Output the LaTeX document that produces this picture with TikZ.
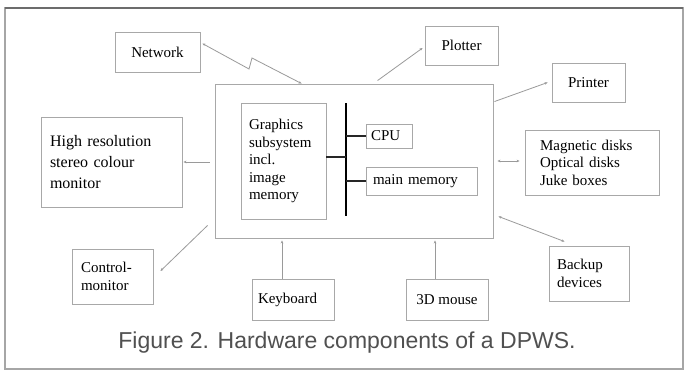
\documentclass[tikz,border=0pt]{standalone}
\usepackage{fontspec}
\setmainfont{Liberation Serif}
\newfontfamily\capfont{Liberation Sans}
\usetikzlibrary{calc,arrows.meta}
\definecolor{boxgray}{HTML}{A8A8A8}
\definecolor{linegray}{HTML}{9A9A9A}
\definecolor{capgray}{HTML}{505050}
\tikzset{
  box/.style={draw=boxgray, line width=0.9pt, inner ysep=0pt, text=black,
    font=\fontsize{15}{17.5}\selectfont},
  link/.style={draw=linegray, line width=0.8pt},
  tip/.style={-{Stealth[length=3pt,width=2.6pt]}},
  bitip/.style={{Stealth[length=3pt,width=2.6pt]}-{Stealth[length=3pt,width=2.6pt]}},
  bus/.style={draw=black, line width=2.2pt},
  stub/.style={draw=black!85, line width=1.1pt},
}
\begin{document}
\begin{tikzpicture}[x=1pt,y=-1pt]
\useasboundingbox (0,0) rectangle (685,372);
\fill[white] (0,0) rectangle (685,372);
% outer frame
\draw[draw=gray!70, line width=1.6pt] (5,8) rectangle (683,369);
\draw[draw=gray!85!black, line width=1.8pt] (5,8) -- (683,8);

% boxes
\node[box, align=center, minimum width=85, minimum height=40] (net) at (157.5,52) {Network};
\node[box, align=center, minimum width=73, minimum height=39] (plot) at (461.5,45.5) {Plotter};
\node[box, align=center, minimum width=73, minimum height=39] (print) at (588.5,82.5) {Printer};
\node[draw=boxgray, line width=0.9pt, minimum width=278, minimum height=154] (main) at (354,161) {};
\node[box, align=left, inner xsep=8pt, text width=69pt, minimum height=116] (gfx) at (283.5,161)
  {Graphics\\subsystem\\incl.\\image\\memory};
\node[box, align=left, inner xsep=5pt, text width=36pt, minimum height=24] (cpu) at (389,136) {CPU};
\node[box, align=left, inner xsep=7pt, text width=97pt, minimum height=28] (mm) at (421.5,181) {main memory};
\node[box, align=left, inner xsep=9pt, text width=123pt, minimum height=90,
  font=\fontsize{16}{21}\selectfont] (hr) at (111.5,162)
  {High resolution\\stereo colour\\monitor};
\node[box, align=left, inner xsep=15pt, text width=104pt, minimum height=65] (mag) at (592,162.5)
  {Magnetic disks\\Optical disks\\Juke boxes};
\node[box, align=left, inner xsep=9pt, text width=63pt, minimum height=55] (ctrl) at (112.5,276.5)
  {Control-\\monitor};
\node[box, align=left, inner xsep=6pt, text width=70pt, minimum height=41] (kb) at (293,299.5) {Keyboard};
\node[box, align=center, minimum width=82, minimum height=41] (mouse) at (447,299.5) {3D mouse};
\node[box, align=left, inner xsep=8pt, text width=64pt, minimum height=55] (back) at (589,273.5)
  {Backup\\devices};

% internal bus
\coordinate (busT) at (346,103);
\coordinate (busB) at (346,216);
\draw[bus] (busT) -- (busB);
\coordinate (g1) at ($(gfx.east)+(0,-4)$);
\draw[stub] (g1) -- (g1 -| busT);
\draw[stub] (cpu.west) -- (cpu.west -| busT);
\draw[stub] (mm.west) -- (mm.west -| busT);

% connectors
\coordinate (netA) at ($(net.north east)+(2,12)$);
\coordinate (z1) at (249,69);
\coordinate (z2) at (252,58);
\coordinate (mainN) at ($(main.north west)+(87,0)$);
\draw[link, bitip] (netA) -- (z1) -- (z2) -- (mainN);

\draw[link, tip] ($(main.north west)+(163,-3)$) -- ($(plot.west)+(-2,2.5)$);
\draw[link, tip] ($(main.north east)+(1,18)$) -- ($(print.west)+(-4,0)$);
\draw[link, bitip] ($(main.east)+(4,0)$) -- ($(mag.west)+(-5,-1.5)$);
\draw[link, bitip] ($(main.south east)+(5,-22)$) -- ($(back.north west)+(16,-4)$);

\coordinate (msT) at ($(mouse.north)+(-12,0)$);
\coordinate (msM) at (msT |- main.south);
\draw[link, tip] (msT) -- ($(msM)+(0,2)$);
\coordinate (kbT) at ($(kb.north)+(-11,0)$);
\coordinate (kbM) at (kbT |- main.south);
\draw[link, tip] (kbT) -- ($(kbM)+(0,2)$);

\draw[link, tip] ($(main.south west)+(-7,-13)$) -- ($(ctrl.east)+(7,-5.5)$);
\draw[link, tip] ($(main.west)+(-5,1)$) -- ($(hr.east)+(1,0)$);

% caption
\node[font=\capfont\fontsize{23}{26}\selectfont, text=capgray, inner sep=0pt] (cap) at (347,343)
  {Figure 2. Hardware components of a DPWS.};
\end{tikzpicture}
\end{document}
